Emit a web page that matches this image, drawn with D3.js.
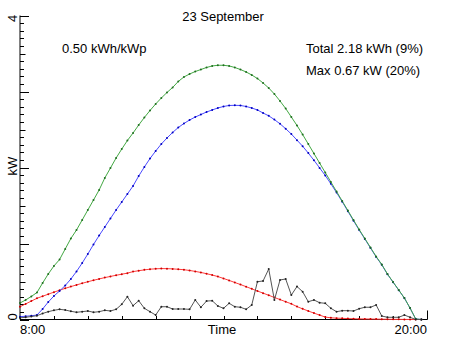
<!DOCTYPE html>
<html><head><meta charset="utf-8">
<script src="https://cdn.jsdelivr.net/npm/d3@7"></script>
<style>body{margin:0;background:#fff}svg{display:block}text{font-family:"Liberation Sans",Arial,sans-serif;fill:#000}</style>
</head><body><svg id="c" width="452" height="339"></svg>
<script>
const title = "23 September";
const specText = "0.50 kWh/kWp";
const totalText = "Total 2.18 kWh (9%)";
const maxText = "Max 0.67 kW (20%)";
const xLabels = ["8:00", "Time", "20:00"];
const yLabels = ["0", "kW", "4"];
const startHour = 8, stepMin = 10;

const green = [0.217,0.257,0.303,0.355,0.480,0.599,0.704,0.789,0.928,1.066,1.178,1.309,1.441,1.572,1.704,1.862,1.993,2.125,2.243,2.355,2.454,2.559,2.658,2.750,2.836,2.914,2.987,3.053,3.132,3.191,3.230,3.263,3.289,3.316,3.336,3.345,3.345,3.336,3.316,3.289,3.257,3.217,3.171,3.112,3.046,2.967,2.875,2.776,2.664,2.553,2.434,2.309,2.184,2.059,1.934,1.809,1.684,1.559,1.434,1.309,1.184,1.066,0.947,0.829,0.724,0.599,0.493,0.388,0.283,0.151,0.007,0];
const blue = [0.037,0.043,0.049,0.059,0.138,0.230,0.309,0.375,0.447,0.533,0.632,0.743,0.862,0.987,1.105,1.217,1.329,1.441,1.546,1.651,1.757,1.888,2.007,2.118,2.217,2.309,2.388,2.461,2.526,2.579,2.625,2.664,2.697,2.730,2.757,2.783,2.803,2.816,2.818,2.816,2.803,2.783,2.757,2.717,2.680,2.630,2.575,2.510,2.440,2.360,2.280,2.190,2.095,1.995,1.895,1.785,1.670,1.550,1.425,1.300,1.177,1.060,0.941,0.824,0.720,0.596,0.491,0.386,0.282,0.150,0.007,0];
const red = [0.168,0.205,0.242,0.279,0.306,0.333,0.360,0.385,0.410,0.433,0.455,0.476,0.497,0.516,0.534,0.551,0.567,0.582,0.596,0.610,0.630,0.642,0.653,0.662,0.667,0.670,0.669,0.666,0.661,0.655,0.645,0.633,0.619,0.603,0.585,0.565,0.540,0.514,0.487,0.460,0.432,0.403,0.375,0.347,0.319,0.290,0.262,0.234,0.206,0.170,0.140,0.112,0.084,0.058,0.032,0.022,0.018,0.015,0.012,0.010,0.008,0.007,0.006,0.005,0.004,0.003,0.002,0.002,0.001,0.001,0,0];
const actual = [0.022,0.029,0.039,0.050,0.079,0.103,0.121,0.134,0.125,0.108,0.095,0.103,0.112,0.095,0.103,0.121,0.112,0.134,0.200,0.300,0.182,0.247,0.147,0.103,0.059,0.168,0.168,0.138,0.138,0.138,0.134,0.257,0.161,0.243,0.247,0.178,0.147,0.213,0.168,0.161,0.134,0.191,0.497,0.507,0.664,0.257,0.520,0.533,0.322,0.434,0.366,0.234,0.257,0.221,0.213,0.147,0.103,0.116,0.116,0.112,0.142,0.161,0.161,0.191,0.046,0.029,0.029,0.029,0.059,0.029,0,0];

const svg = d3.select("#c");
const x = d3.scaleLinear().domain([8, 20]).range([20, 427]);
const y = d3.scaleLinear().domain([0, 4]).range([319.5, 15.5]);
const t = i => startHour + i * stepMin / 60;

// Y axis
const yTicks = d3.range(0, 41).map(k => k / 10);
svg.append("line").attr("x1", 20).attr("x2", 20).attr("y1", y(4)).attr("y2", y(0)).attr("stroke", "#000").attr("stroke-width", 1);
svg.selectAll(".yt").data(yTicks).join("line")
  .attr("x1", 20).attr("x2", (d, k) => 20 + (k % 10 === 0 ? 9 : k % 5 === 0 ? 5.5 : 4))
  .attr("y1", d => Math.round(y(d)) + 0.5).attr("y2", d => Math.round(y(d)) + 0.5)
  .attr("stroke", "#000").attr("stroke-width", 1);

// X axis
svg.append("line").attr("x1", 20).attr("x2", 427.5).attr("y1", 319.5).attr("y2", 319.5).attr("stroke", "#000");
const xTicks = d3.range(8, 21);
svg.selectAll(".xt").data(xTicks).join("line")
  .attr("x1", d => Math.round(x(d)) + 0.5).attr("x2", d => Math.round(x(d)) + 0.5)
  .attr("y1", 319.5).attr("y2", d => (d === 20 ? 310.5 : 316))
  .attr("stroke", "#000");

// series
const line = d3.line().x((d, i) => x(t(i))).y(d => y(d));
const series = [[red, "#ff3b3b", "#d00000"], [blue, "#4a4aff", "#0000c0"], [green, "#43a843", "#1f6f1f"], [actual, "#555", "#222"]];
series.forEach(([data, col, dot]) => {
  svg.append("path").datum(data).attr("d", line).attr("fill", "none").attr("stroke", col).attr("stroke-width", 1);
  svg.append("g").selectAll("circle").data(data).join("circle")
    .attr("cx", (d, i) => x(t(i))).attr("cy", d => y(d)).attr("r", 1).attr("fill", dot);
});

// texts
svg.append("text").attr("x", 223).attr("y", 21).attr("text-anchor", "middle").attr("font-size", 13).text(title);
svg.append("text").attr("x", 62).attr("y", 52.5).attr("font-size", 13).text(specText);
svg.append("text").attr("x", 306).attr("y", 52.5).attr("font-size", 13).text(totalText);
svg.append("text").attr("x", 306).attr("y", 74.5).attr("font-size", 13).text(maxText);
svg.append("text").attr("x", 20).attr("y", 333.5).attr("font-size", 13).text(xLabels[0]);
svg.append("text").attr("x", 222).attr("y", 333.5).attr("text-anchor", "middle").attr("font-size", 13).text(xLabels[1]);
svg.append("text").attr("x", 427).attr("y", 333.5).attr("text-anchor", "end").attr("font-size", 13).text(xLabels[2]);
[[0, 317], [2, 166], [4, 18.5]].forEach(([v, py], k) => {
  svg.append("text").attr("transform", `translate(17,${py}) rotate(-90)`).attr("text-anchor", "middle").attr("font-size", 13).text(yLabels[k]);
});
</script></body></html>
